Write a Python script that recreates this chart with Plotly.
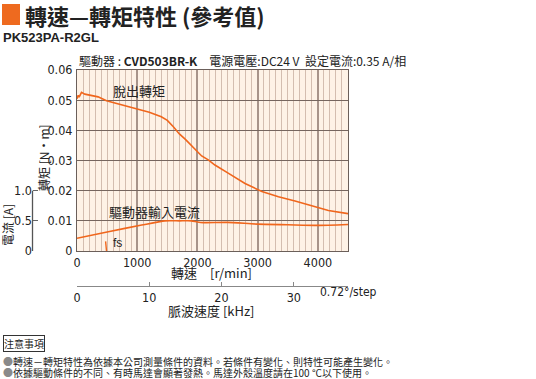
import plotly.graph_objects as go

W, H = 536, 379

# ---- data ----
speed_rpm = [0, 20, 35, 75, 130, 240, 350, 490, 700, 1000, 1200, 1400, 1500, 1600,
             1700, 1800, 1900, 2000, 2070, 2180, 2290, 2510, 2790, 3070, 3345,
             3620, 3900, 4175, 4500]
pullout_torque = [0.0505, 0.0516, 0.0510, 0.0526, 0.0520, 0.0515, 0.0511, 0.0498,
                  0.0487, 0.0470, 0.0460, 0.0445, 0.0433, 0.0412, 0.0388, 0.0370,
                  0.0350, 0.0328, 0.0315, 0.0302, 0.0285, 0.0258, 0.0224, 0.0197,
                  0.0180, 0.0166, 0.0150, 0.0134, 0.0124]

current_rpm = [0, 520, 1075, 1460, 1700, 1900, 2000, 2100, 2500, 3000, 3500, 4000, 4500]
current_a = [0.21, 0.32, 0.43, 0.50, 0.50, 0.50, 0.48, 0.47, 0.475, 0.445, 0.435, 0.425, 0.44]

fs_rpm = [475, 490]
fs_torque = [0.0032, 0.0]

rpm_tick_step = 1000
rpm_minor_step = 100
torque_ticks = [0, 0.01, 0.02, 0.03, 0.04, 0.05, 0.06]
torque_ticktext = ["0", "0.01", "0.02", "0.03", "0.04", "0.05", "0.06"]
current_ticks = [0, 0.5, 1.0]
current_ticktext = ["0", "0.5", "1.0"]
current_max_on_axis = 3.0   # 1.0 A spans one third of the torque axis height
khz_ticks = [0, 10, 20, 30]
rpm_max = 4500
khz_per_rpm = 1 / 120.0  # 0.72 deg/step -> 500 steps/rev

ORANGE = "#F0661C"
NUM_FONT = "Liberation Sans Narrow, DejaVu Sans Condensed, Arial Narrow, Liberation Sans"
CJK = "Noto Sans CJK TC"

def px(x):
    return x / W

def py(y):
    return 1 - y / H

x_dom = [px(77), px(348)]
y_dom = [py(251), py(70)]

def current_to_paper(a):
    return y_dom[0] + (a / current_max_on_axis) * (y_dom[1] - y_dom[0])

fig = go.Figure()

fig.add_trace(go.Scatter(x=speed_rpm, y=pullout_torque, mode="lines",
                         line=dict(color=ORANGE, width=1.6), xaxis="x", yaxis="y",
                         hoverinfo="skip"))
fig.add_trace(go.Scatter(x=fs_rpm, y=fs_torque, mode="lines",
                         line=dict(color=ORANGE, width=1.4), xaxis="x", yaxis="y",
                         hoverinfo="skip"))
fig.add_trace(go.Scatter(x=current_rpm, y=current_a, mode="lines",
                         line=dict(color=ORANGE, width=1.6, shape="spline", smoothing=0.6),
                         xaxis="x", yaxis="y2", hoverinfo="skip"))
fig.add_trace(go.Scatter(x=[0, rpm_max * khz_per_rpm], y=[None, None], mode="lines",
                         xaxis="x2", yaxis="y", showlegend=False, hoverinfo="skip"))

fig.update_layout(
    width=W, height=H,
    margin=dict(l=0, r=0, t=0, b=0, autoexpand=False),
    paper_bgcolor="white",
    plot_bgcolor="#FEF2E6",
    showlegend=False,
    font=dict(family=NUM_FONT, size=12, color="#222"),
    xaxis=dict(domain=x_dom, range=[0, rpm_max], anchor="y",
               tickmode="linear", tick0=0, dtick=rpm_tick_step, ticks="",
               showgrid=True, gridcolor="#A8948A", gridwidth=1.5,
               minor=dict(tickmode="linear", tick0=0, dtick=rpm_minor_step,
                          showgrid=True, gridcolor="#D4BDAF", gridwidth=1, ticks=""),
               showline=True, mirror=True, linecolor="#6B5F5A", linewidth=1,
               zeroline=False, tickfont=dict(size=12.5, family=NUM_FONT),
               automargin=False),
    xaxis2=dict(overlaying="x", anchor="free", position=py(286),
                range=[0, rpm_max * khz_per_rpm], tickvals=khz_ticks,
                ticks="inside", ticklen=4, tickcolor="#888", showline=True,
                linecolor="#888", linewidth=1, showgrid=False, zeroline=False,
                tickfont=dict(size=12.5, family=NUM_FONT), automargin=False),
    yaxis=dict(domain=y_dom, range=[0, 0.06], anchor="x",
               tickvals=torque_ticks, ticktext=torque_ticktext, ticks="",
               showgrid=True, gridcolor="#76665F", gridwidth=1,
               showline=True, mirror=True, linecolor="#6B5F5A", linewidth=1,
               zeroline=False, tickfont=dict(size=12.5, family=NUM_FONT),
               ticklabelstandoff=1, automargin=False),
    yaxis2=dict(overlaying="y", range=[0, current_max_on_axis], anchor="free",
                position=px(32), side="left", tickvals=current_ticks,
                ticktext=current_ticktext, ticks="inside", ticklen=5,
                tickcolor="#666", tickwidth=1.2, showline=False,
                showgrid=False, zeroline=False,
                tickfont=dict(size=12.5, family=NUM_FONT), automargin=False),
)

shapes = [
    dict(type="rect", xref="paper", yref="paper", x0=px(2), x1=px(20),
         y0=py(25), y1=py(4), fillcolor="#EE6A1F", line=dict(width=0)),
    # current axis spine (0 .. 1.0 A)
    dict(type="line", xref="paper", yref="paper", x0=px(32.5), x1=px(32.5),
         y0=current_to_paper(current_ticks[0]), y1=current_to_paper(current_ticks[-1]),
         line=dict(color="#555", width=1.3), layer="above"),
]
fig.update_layout(shapes=shapes)

def ann(text, x, y, size=12, family=CJK, xanchor="center", yanchor="middle",
        textangle=0, color="#222", **kw):
    fig.add_annotation(text=text, x=px(x), y=py(y), xref="paper", yref="paper",
                       showarrow=False, xanchor=xanchor, yanchor=yanchor,
                       textangle=textangle,
                       font=dict(size=size, family=family, color=color), **kw)

ann("<b>轉速—轉矩特性 (參考值)</b>", 23, 15, size=22, xanchor="left")
ann("<b>PK523PA-R2GL</b>", 1, 38, size=13, family="Liberation Sans, Arial", xanchor="left")
ann("驅動器 : <b>CVD503BR-K</b>　電源電壓:DC24 V  設定電流:0.35 A/相", 77, 61,
    size=12, xanchor="left")

ann("轉矩 [N·m]", 43, 158, size=12, textangle=-90)
ann("電流 [A]", 7, 225, size=12, textangle=-90)
ann("轉速　[r/min]", 211, 272.5, size=13)
ann("脈波速度 [kHz]", 211, 310, size=13)
ann("0.72°/step", 348, 292, size=12, family=NUM_FONT)

ann("脫出轉矩", 139, 90, size=13)
ann("驅動器輸入電流", 154, 211, size=13)
ann("fs", 111, 243, size=12, family="Liberation Sans, Arial", xanchor="left")

ann("注意事項", 3, 343.5, size=10, xanchor="left", bordercolor="#333",
    borderwidth=1, borderpad=0)
ann("<span style='color:#8a8a8a'>●</span>轉速－轉矩特性為依據本公司測量條件的資料。若條件有變化、則特性可能產生變化。",
    1, 361, size=10, xanchor="left")
ann("<span style='color:#8a8a8a'>●</span>依據驅動條件的不同、有時馬達會顯著發熱。馬達外殼溫度請在100 °C以下使用。",
    1, 372.5, size=10, xanchor="left")

fig.write_html("out.html", config={"displayModeBar": False},
               post_script="document.body.style.margin='0px';document.body.style.overflow='hidden';")
